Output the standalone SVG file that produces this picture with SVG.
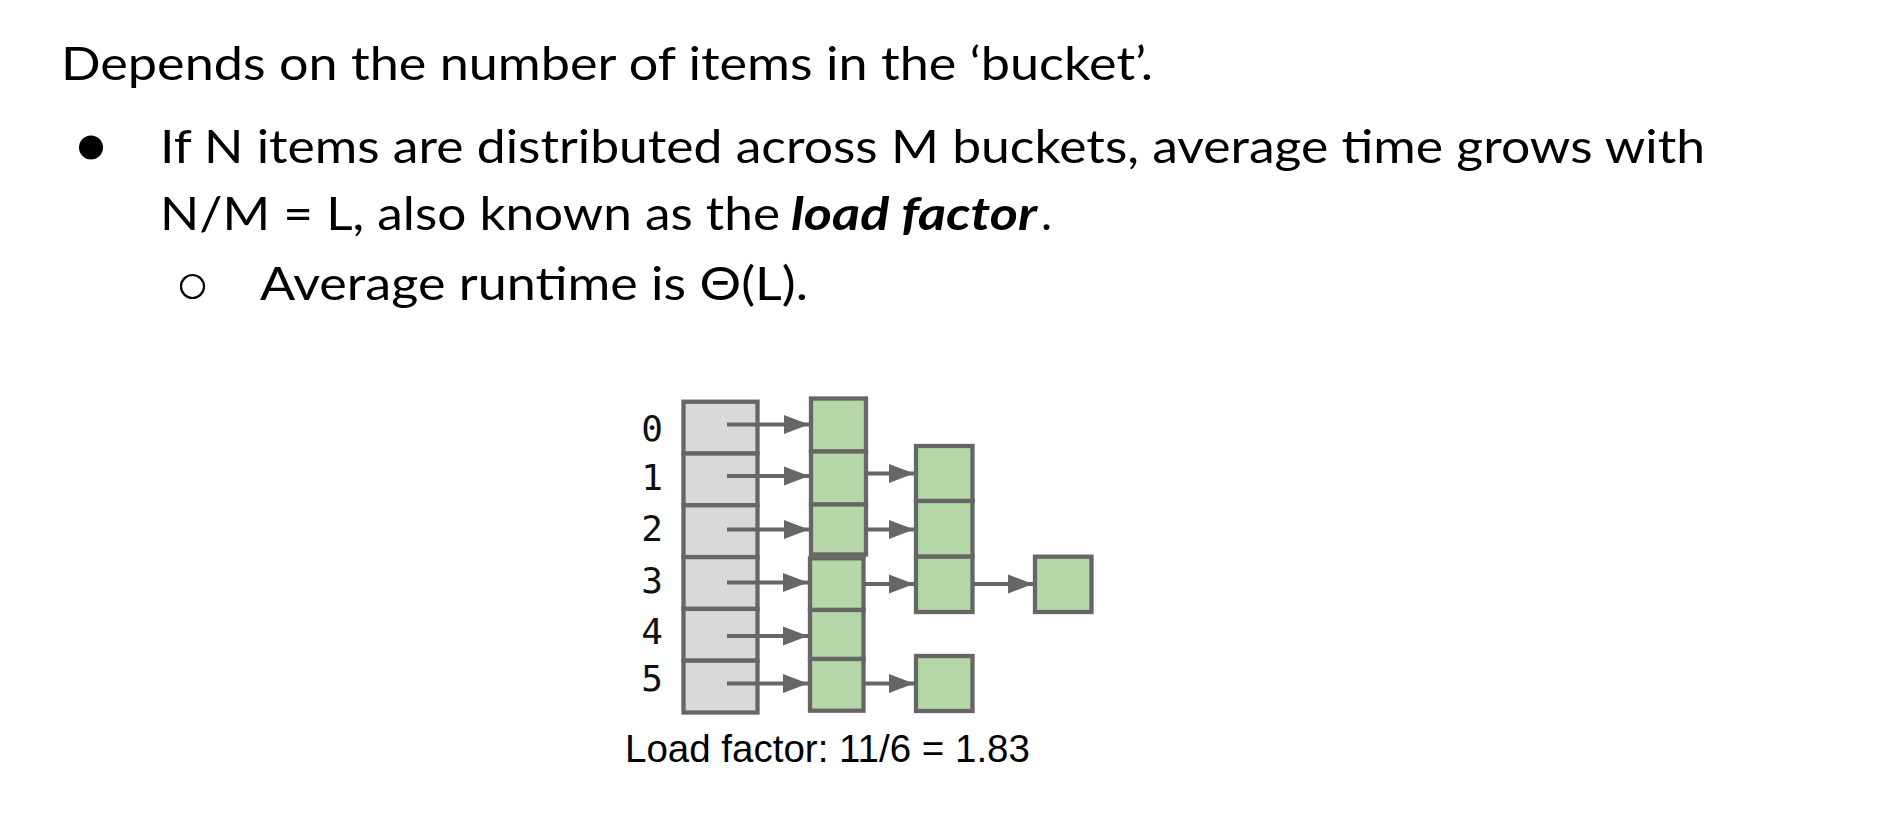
<svg xmlns="http://www.w3.org/2000/svg" width="1902" height="836" viewBox="0 0 1902 836">
<style>
.body{font-family:Lato,"Open Sans","Liberation Sans",sans-serif;font-size:46px;fill:#000}
.bi{font-weight:bold;font-style:italic}
.idx{font-family:"DejaVu Sans Mono","Liberation Mono",monospace;font-size:36px;fill:#111;text-anchor:middle}
.cap{font-family:"Liberation Sans",Arial,sans-serif;font-size:38.5px;fill:#000}
.slot{fill:#d9d9d9;stroke:#666;stroke-width:4.3}
.item{fill:#b6d7a8;stroke:#666;stroke-width:4.3}
.arr{stroke:#666;stroke-width:4.2;fill:none;marker-end:url(#ah)}
</style>
<defs>
<marker id="ah" markerUnits="userSpaceOnUse" markerWidth="25" markerHeight="20" refX="25" refY="10" orient="auto">
<path d="M0,0.5 L25,10 L0,19.5 z" fill="#666"/>
</marker>
</defs>
<rect width="1902" height="836" fill="#fff"/>
<g id="text">
<text class="body" x="61" y="80" textLength="1092" lengthAdjust="spacingAndGlyphs">Depends on the number of items in the ‘bucket’.</text>
<circle cx="91" cy="147.5" r="12" fill="#000"/>
<text class="body" x="160" y="163" textLength="1545" lengthAdjust="spacingAndGlyphs">If N items are distributed across M buckets, average time grows with</text>
<text class="body" x="160" y="230" textLength="620" lengthAdjust="spacingAndGlyphs">N/M = L, also known as the</text>
<text class="body bi" x="791" y="230" textLength="246" lengthAdjust="spacingAndGlyphs">load factor</text>
<text class="body" x="1041" y="230">.</text>
<circle cx="192.5" cy="286.5" r="11.5" fill="none" stroke="#000" stroke-width="2.2"/>
<text class="body" x="260" y="300" textLength="548" lengthAdjust="spacingAndGlyphs">Average runtime is Θ(L).</text>
</g>
<g id="labels">
<text class="idx" x="652" y="441">0</text>
<text class="idx" x="652" y="490">1</text>
<text class="idx" x="652" y="541">2</text>
<text class="idx" x="652" y="592.5">3</text>
<text class="idx" x="652" y="643.5">4</text>
<text class="idx" x="652" y="691">5</text>
</g>
<g id="table">
<rect class="slot" x="683.5" y="401.7" width="74" height="51.8"/>
<rect class="slot" x="683.5" y="453.5" width="74" height="51.8"/>
<rect class="slot" x="683.5" y="505.3" width="74" height="51.8"/>
<rect class="slot" x="683.5" y="557.1" width="74" height="51.8"/>
<rect class="slot" x="683.5" y="608.9" width="74" height="51.8"/>
<rect class="slot" x="683.5" y="660.7" width="74" height="51.8"/>
</g>
<g id="chain0"><rect class="item" x="811" y="398.5" width="55" height="53"/></g>
<g id="chain1">
<rect class="item" x="811" y="451.5" width="55" height="53"/>
<rect class="item" x="916" y="446" width="56.5" height="55"/>
</g>
<g id="chain2">
<rect class="item" x="811" y="504.5" width="55" height="50"/>
<rect class="item" x="916" y="501" width="56.5" height="55.7"/>
</g>
<g id="chain3">
<rect class="item" x="810" y="558.3" width="53.5" height="51.7"/>
<rect class="item" x="916" y="556.7" width="56.5" height="55.3"/>
<rect class="item" x="1035" y="556.7" width="56.5" height="55.3"/>
</g>
<g id="chain4"><rect class="item" x="810" y="610" width="53.5" height="49"/></g>
<g id="chain5">
<rect class="item" x="810" y="659" width="53.5" height="51.7"/>
<rect class="item" x="916" y="656" width="56.5" height="55"/>
</g>
<g id="connectors">
<line class="arr" x1="727" y1="424.5" x2="809" y2="424.5"/>
<line class="arr" x1="727" y1="476" x2="809" y2="476"/>
<line class="arr" x1="727" y1="529.5" x2="809" y2="529.5"/>
<line class="arr" x1="727" y1="582.5" x2="808" y2="582.5"/>
<line class="arr" x1="727" y1="636" x2="808" y2="636"/>
<line class="arr" x1="727" y1="683.5" x2="808" y2="683.5"/>
<line class="arr" x1="866" y1="473.5" x2="914" y2="473.5"/>
<line class="arr" x1="866" y1="529.5" x2="914" y2="529.5"/>
<line class="arr" x1="864" y1="584" x2="914" y2="584"/>
<line class="arr" x1="864" y1="683.5" x2="914" y2="683.5"/>
<line class="arr" x1="973" y1="584" x2="1033" y2="584"/>
</g>
<text class="cap" x="625" y="762">Load factor: 11/6 = 1.83</text>
</svg>
